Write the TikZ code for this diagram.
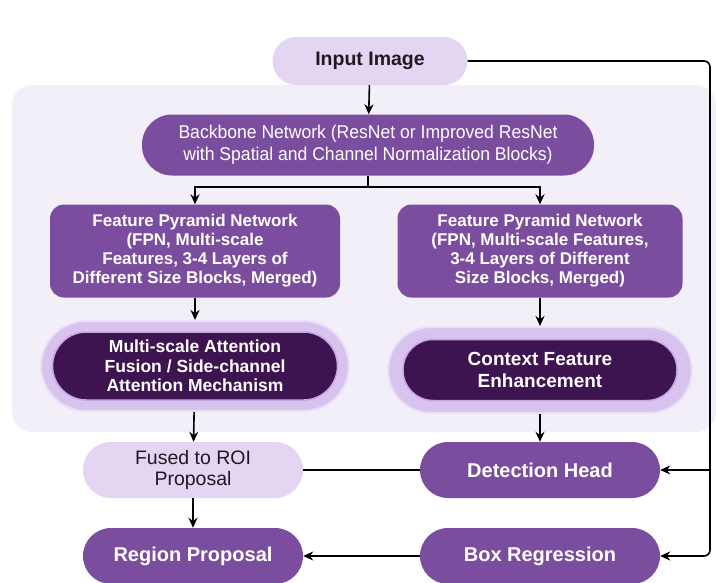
\documentclass[tikz,border=0pt]{standalone}
\usepackage{fontspec}
\setmainfont{Liberation Sans}
\newfontfamily\narrowfont[FakeStretch=0.95]{Liberation Sans}
\usetikzlibrary{arrows.meta}
\definecolor{purp}{HTML}{7B4D9F}
\definecolor{darkp}{HTML}{3D1350}
\definecolor{lightp}{HTML}{E4D5F3}
\definecolor{glowp}{HTML}{D8C2EE}
\definecolor{glowedge}{HTML}{EBE0F7}
\definecolor{darkedge}{HTML}{C4A6E3}
\definecolor{panelc}{HTML}{F3EFF8}
\definecolor{txtdark}{HTML}{1E1A22}
\tikzset{
  box/.style={inner sep=0pt, align=center, text=white, fill=purp},
  lightbox/.style={inner sep=0pt, align=center, text=txtdark, fill=lightp},
  glowbox/.style={inner sep=0pt, fill=glowp, draw=glowedge, line width=2pt},
  darkbox/.style={inner sep=0pt, align=center, text=white, fill=darkp, draw=darkedge, line width=1.5pt},
  conn/.style={line width=1.6pt, draw=black},
  arr/.style={conn, -{Stealth[length=10pt,width=9pt]}}
}
\begin{document}
\begin{tikzpicture}[x=1pt,y=-1pt]
\fill[white] (0,0) rectangle (716,582);
\useasboundingbox (0,0) rectangle (716,582);
\fill[panelc, rounded corners=20pt] (12,85) rectangle (716,432);

\node[lightbox, minimum width=195pt, minimum height=48pt, rounded corners=24pt,
  font=\fontsize{19.5}{22}\selectfont\bfseries] (in) at (370,61) {Input Image};
\node[box, minimum width=452pt, minimum height=61pt, rounded corners=30pt,
  font=\narrowfont\fontsize{18.5}{22}\selectfont] (bb) at (368,145)
  {Backbone Network (ResNet or Improved ResNet\\with Spatial and Channel Normalization Blocks)};

\node[box, minimum width=290pt, minimum height=93pt, rounded corners=14pt,
  font=\fontsize{17}{19}\selectfont\bfseries] (fpnL) at (195,251)
  {Feature Pyramid Network\\(FPN, Multi-scale\\Features, 3-4 Layers of\\Different Size Blocks, Merged)};
\node[box, minimum width=285pt, minimum height=93pt, rounded corners=14pt,
  font=\fontsize{17}{19}\selectfont\bfseries] (fpnR) at (540,251)
  {Feature Pyramid Network\\(FPN, Multi-scale Features,\\3-4 Layers of Different\\Size Blocks, Merged)};

\node[glowbox, minimum width=308pt, minimum height=90pt, rounded corners=45pt] (attLo) at (195,366) {};
\node[darkbox, minimum width=285pt, minimum height=68pt, rounded corners=34pt,
  font=\fontsize{17.5}{19.5}\selectfont\bfseries] (attL) at (195,366)
  {Multi-scale Attention\\Fusion / Side-channel\\Attention Mechanism};
\node[glowbox, minimum width=304pt, minimum height=86pt, rounded corners=43pt] (ctxo) at (540,370) {};
\node[darkbox, minimum width=274pt, minimum height=61pt, rounded corners=30pt,
  font=\fontsize{19}{22}\selectfont\bfseries] (ctx) at (540,370)
  {Context Feature\\Enhancement};

\node[lightbox, minimum width=220pt, minimum height=56pt, rounded corners=28pt,
  font=\fontsize{19.5}{20.5}\selectfont] (fused) at (193,470) {Fused to ROI\\Proposal};
\node[box, minimum width=240pt, minimum height=56pt, rounded corners=28pt,
  font=\fontsize{20}{22}\selectfont\bfseries] (det) at (540,470) {Detection Head};
\node[box, minimum width=220pt, minimum height=56pt, rounded corners=28pt,
  font=\fontsize{20}{22}\selectfont\bfseries] (reg) at (193,556) {Region Proposal};
\node[box, minimum width=240pt, minimum height=56pt, rounded corners=28pt,
  font=\fontsize{20}{22}\selectfont\bfseries] (boxr) at (540,556) {Box Regression};

\coordinate (bj) at (368,187);
\coordinate (rtop) at (710,61);
\coordinate (rbot) at (710,556);

\draw[arr] (in) -- (bb);
\draw[conn] (bb.south) -- (bj);
\draw[arr] (bj) -| (fpnL.north);
\draw[arr] (bj) -| (fpnR.north);
\draw[arr] (fpnL) -- (attLo);
\draw[arr] (fpnR) -- (ctxo);
\draw[arr] (attLo) -- (fused);
\draw[arr] (ctxo) -- (det);
\draw[conn] (det) -- (fused);
\draw[arr] (fused) -- (reg);
\draw[arr] (boxr) -- (reg);
\draw[arr, rounded corners=6pt] (in.east) -- (rtop) -- (rbot) -- (boxr.east);
\draw[arr] (det.east -| rtop) -- (det.east);
\end{tikzpicture}
\end{document}
